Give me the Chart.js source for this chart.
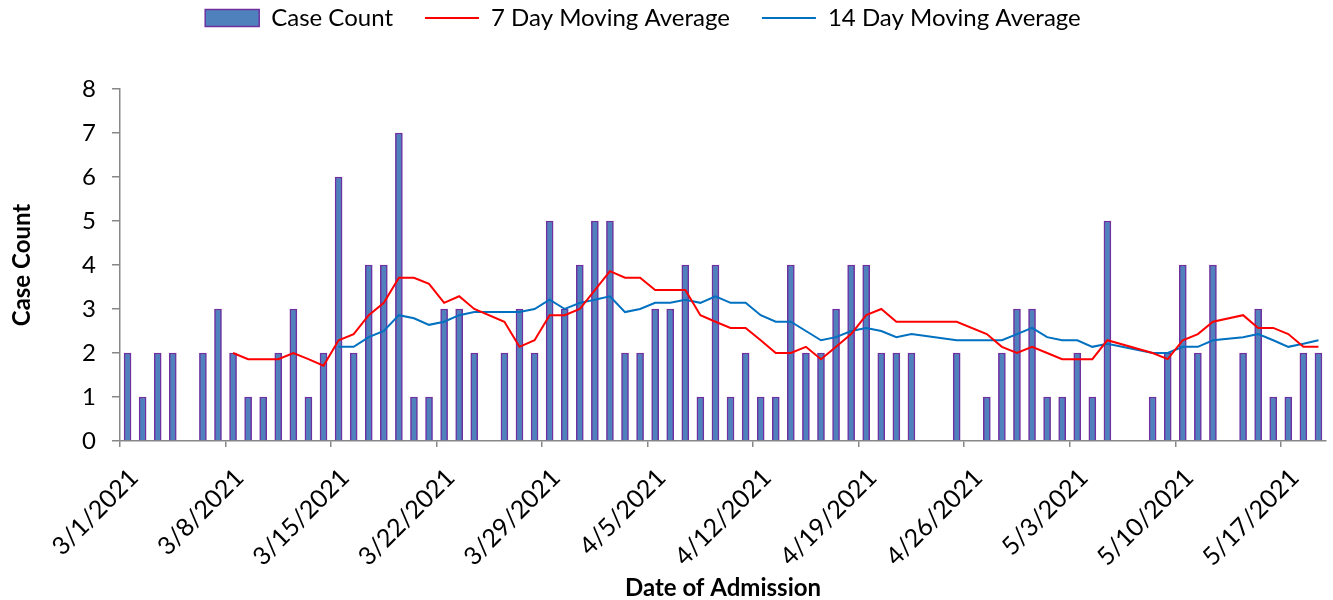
<!DOCTYPE html>
<html>
<head>
<meta charset="utf-8">
<script src="https://cdn.jsdelivr.net/npm/chart.js@4.4.1/dist/chart.umd.min.js"></script>
<style>
html,body{margin:0;padding:0;background:#fff;}
#wrap{width:1333px;height:600px;position:relative;}
</style>
</head>
<body>
<div id="wrap"><canvas id="c"></canvas></div>
<script>
// ---- data ----
const dates = [
 "3/1/2021","3/2/2021","3/3/2021","3/4/2021","3/5/2021","3/6/2021","3/7/2021","3/8/2021","3/9/2021","3/10/2021",
 "3/11/2021","3/12/2021","3/13/2021","3/14/2021","3/15/2021","3/16/2021","3/17/2021","3/18/2021","3/19/2021","3/20/2021",
 "3/21/2021","3/22/2021","3/23/2021","3/24/2021","3/25/2021","3/26/2021","3/27/2021","3/28/2021","3/29/2021","3/30/2021",
 "3/31/2021","4/1/2021","4/2/2021","4/3/2021","4/4/2021","4/5/2021","4/6/2021","4/7/2021","4/8/2021","4/9/2021",
 "4/10/2021","4/11/2021","4/12/2021","4/13/2021","4/14/2021","4/15/2021","4/16/2021","4/17/2021","4/18/2021","4/19/2021",
 "4/20/2021","4/21/2021","4/22/2021","4/23/2021","4/24/2021","4/25/2021","4/26/2021","4/27/2021","4/28/2021","4/29/2021",
 "4/30/2021","5/1/2021","5/2/2021","5/3/2021","5/4/2021","5/5/2021","5/6/2021","5/7/2021","5/8/2021","5/9/2021",
 "5/10/2021","5/11/2021","5/12/2021","5/13/2021","5/14/2021","5/15/2021","5/16/2021","5/17/2021","5/18/2021","5/19/2021"
];
const caseCount = [
 2,1,2,2,null,2,3,2,1,1,
 2,3,1,2,6,2,4,4,7,1,
 1,3,3,2,null,2,3,2,5,3,
 4,5,5,2,2,3,3,4,1,4,
 1,2,1,1,4,2,2,3,4,4,
 2,2,2,null,null,2,null,1,2,3,
 3,1,1,2,1,5,null,null,1,2,
 4,2,4,null,2,3,1,1,2,2
];
const movingAvg7 = [
 null,null,null,null,null,null,null,2.00,1.86,1.86,
 1.86,2.00,1.86,1.71,2.29,2.43,2.86,3.14,3.71,3.71,
 3.57,3.14,3.29,3.00,null,2.71,2.14,2.29,2.86,2.86,
 3.00,3.43,3.86,3.71,3.71,3.43,3.43,3.43,2.86,2.71,
 2.57,2.57,2.29,2.00,2.00,2.14,1.86,2.14,2.43,2.86,
 3.00,2.71,2.71,null,null,2.71,null,2.43,2.14,2.00,
 2.14,2.00,1.86,1.86,1.86,2.29,null,null,2.00,1.86,
 2.29,2.43,2.71,null,2.86,2.57,2.57,2.43,2.14,2.14
];
const movingAvg14 = [
 null,null,null,null,null,null,null,null,null,null,
 null,null,null,null,2.14,2.14,2.36,2.50,2.86,2.79,
 2.64,2.71,2.86,2.93,null,2.93,2.93,3.00,3.21,3.00,
 3.14,3.21,3.29,2.93,3.00,3.14,3.14,3.21,3.14,3.29,
 3.14,3.14,2.86,2.71,2.71,2.50,2.29,2.36,2.50,2.57,
 2.50,2.36,2.43,null,null,2.29,null,2.29,2.29,2.43,
 2.57,2.36,2.29,2.29,2.14,2.21,null,null,2.00,2.00,
 2.14,2.14,2.29,null,2.36,2.43,2.29,2.14,2.21,2.29
];
const seriesNames = ["Case Count","7 Day Moving Average","14 Day Moving Average"];
const axisTitles = {x:"Date of Admission", y:"Case Count"};

// ---- rendering ----
const FONT = "Lato";
const AXIS = "#878787";
const toPoints = arr => arr.map((v,i)=>({x:i+0.5, y:v}));

const legendSpacer = {
  id:'legendSpacer',
  beforeInit(chart){
    const orig = chart.legend.fit;
    chart.legend.fit = function(){ orig.bind(chart.legend)(); this.height = 115; };
  },
  afterLayout(chart){
    chart.legend.right -= 40;
  }
};

new Chart(document.getElementById('c'), {
  type:'bar',
  data:{
    datasets:[
      {type:'bar', label:seriesNames[0], data:toPoints(caseCount),
       backgroundColor:'#4F81BD', borderColor:'#7030A0', borderWidth:1.5,
       barThickness:7, order:1},
      {type:'line', label:seriesNames[1], data:toPoints(movingAvg7),
       borderColor:'#FF0000', backgroundColor:'#FF0000', borderWidth:2,
       pointRadius:0, spanGaps:true, tension:0, order:0},
      {type:'line', label:seriesNames[2], data:toPoints(movingAvg14),
       borderColor:'#0070C0', backgroundColor:'#0070C0', borderWidth:2,
       pointRadius:0, spanGaps:true, tension:0, order:0}
    ]
  },
  options:{
    responsive:true, maintainAspectRatio:false, animation:false,
    layout:{padding:{top:-26, right:7, left:0, bottom:0}},
    plugins:{
      tooltip:{enabled:false},
      legend:{
        position:'top',
        labels:{
          font:{family:FONT, size:24}, color:'#000',
          usePointStyle:true, pointStyleWidth:54, boxHeight:17, padding:32,
          sort:(a,b)=>a.datasetIndex-b.datasetIndex,
          generateLabels(chart){
            const items = Chart.defaults.plugins.legend.labels.generateLabels(chart);
            items.forEach(it=>{
              const ds = chart.data.datasets[it.datasetIndex];
              if (ds.type==='line'){ it.pointStyle='line'; it.strokeStyle=ds.borderColor; it.lineWidth=2; }
              else { it.pointStyle='rect'; it.fillStyle=ds.backgroundColor; it.strokeStyle=ds.borderColor; it.lineWidth=1.5; }
            });
            return items;
          }
        }
      }
    },
    scales:{
      x:{
        type:'linear', min:0, max:80, offset:false,
        ticks:{stepSize:7, includeBounds:false, autoSkip:false, minRotation:45, maxRotation:45,
               callback:v=>dates[v] ?? '', font:{family:FONT,size:25}, color:'#000',
               padding:16, labelOffset:14},
        grid:{drawOnChartArea:false, drawTicks:true, tickLength:6, color:AXIS, lineWidth:1.5, offset:false},
        border:{color:AXIS, width:1.5},
        title:{display:true, text:axisTitles.x, font:{family:FONT,size:24,weight:'bold'}, color:'#000', padding:{top:0,bottom:-3}},
        afterFit:s=>{ s.height = 159; }
      },
      y:{
        min:0, max:8,
        ticks:{stepSize:1, font:{family:FONT,size:24}, color:'#000', padding:16},
        grid:{drawOnChartArea:false, drawTicks:true, tickLength:8, color:AXIS, lineWidth:1.5},
        border:{color:AXIS, width:1.5},
        title:{display:true, text:axisTitles.y, font:{family:FONT,size:24,weight:'bold'}, color:'#000', padding:{top:8,bottom:0}},
        afterFit:s=>{ s.width = 120; }
      }
    }
  },
  plugins:[legendSpacer]
});
</script>
</body>
</html>
